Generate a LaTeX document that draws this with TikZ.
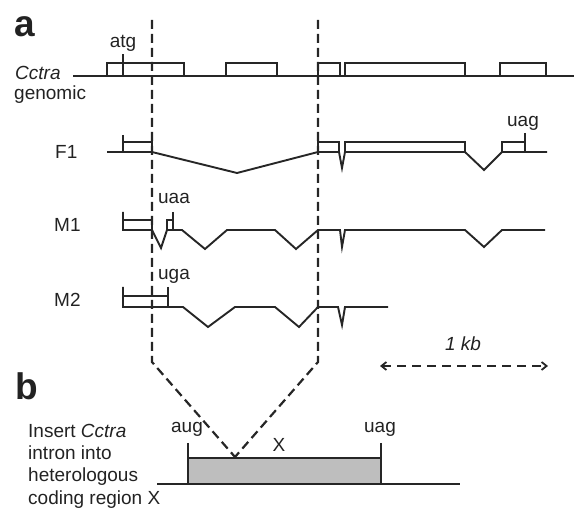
\documentclass[tikz,border=0pt]{standalone}
\usepackage{fontspec}
\setmainfont{Liberation Sans}
\usetikzlibrary{arrows.meta}
\definecolor{txt}{HTML}{222222}
\definecolor{boxgray}{HTML}{BEBEBE}
\begin{document}
\begin{tikzpicture}[x=1pt,y=-1pt,
  gene/.style={line width=1.9pt,line join=miter,black!85},
  guide/.style={line width=2.2pt,dash pattern=on 9pt off 5pt,black!85},
  lbl/.style={inner sep=0pt,anchor=base,text=txt,font=\fontsize{19}{23}\selectfont},
  lbll/.style={lbl,anchor=base west},
  panel/.style={inner sep=0pt,anchor=base west,text=txt,font=\fontsize{37}{40}\selectfont\bfseries}]
\useasboundingbox (0,0) rectangle (574,510);

% panel labels
\node[panel] (pa) at (14,37) {a};
\node[panel] (pb) at (15,400) {b};

% row labels
\node[lbll] (cctra) at (15,80) {\itshape Cctra};
\node[lbll] (genomic) at (14,100) {genomic};
\node[lbll] (f1) at (55,159) {F1};
\node[lbll] (m1) at (54,232) {M1};
\node[lbll] (m2) at (54,307) {M2};

% codon labels
\node[lbl] (atg) at (123,48) {atg};
\node[lbl] (uag1) at (523,127) {uag};
\node[lbl] (uaa) at (174,204) {uaa};
\node[lbl] (uga) at (174,280) {uga};

% genomic
\draw[gene] (73,76) -- (574,76);
\draw[gene] (107,76) |- (184,63) -- (184,76);
\draw[gene] (123,76) -- (123,54);
\draw[gene] (226,76) |- (277,63) -- (277,76);
\draw[gene] (318,76) |- (340,63) -- (340,76);
\draw[gene] (345,76) |- (465,63) -- (465,76);
\draw[gene] (500,76) |- (546,63) -- (546,76);

% F1
\draw[gene] (107,152) -- (152,152) -- (237,173) -- (318,152) -- (339,152)
  -- (342,168) -- (345,152) -- (465,152) -- (484,170) -- (502,152) -- (547,152);
\draw[gene] (123,135) -- (123,152);
\draw[gene] (123,142) -- (152,142) -- (152,152);
\draw[gene] (318,152) |- (339,142) -- (339,152);
\draw[gene] (345,152) |- (465,142) -- (465,152);
\draw[gene] (502,152) |- (525,142);
\draw[gene] (525,133) -- (525,152);

% M1
\draw[gene] (123,212) -- (123,230) -- (152,230) -- (161,248) -- (167,230) -- (182,230)
  -- (205,249) -- (227,230) -- (275,230) -- (296,249) -- (318,230) -- (340,230)
  -- (342,247) -- (345,230) -- (465,230) -- (484,247) -- (502,230) -- (545,230);
\draw[gene] (123,220) -- (152,220) -- (152,230);
\draw[gene] (167,230) |- (173,220);
\draw[gene] (173,212) -- (173,230);

% M2
\draw[gene] (123,287) -- (123,307) -- (168,307) -- (183,307) -- (208,327) -- (235,307)
  -- (275,307) -- (299,327) -- (318,307) -- (338,307) -- (342,325) -- (345,307) -- (388,307);
\draw[gene] (123,296) -- (168,296);
\draw[gene] (168,287) -- (168,307);

% guide lines
\coordinate (gl) at (152,20);
\coordinate (gr) at (318,20);
\coordinate (gm) at (235,457);
\draw[guide] (gl) -- (152,362) -- (gm);
\draw[guide] (gr) -- (318,362) -- (gm);

% scale bar
\node[lbl] (kb) at (463,351) {\itshape 1 kb};
\coordinate (sl) at (380,366);
\coordinate (sr) at (548,366);
\draw[line width=1.8pt,dash pattern=on 9pt off 6pt,black!85,
  {Straight Barb[length=5pt,width=8pt]}-{Straight Barb[length=5pt,width=8pt]}] (sl) -- (sr);

% panel b text
\node[lbll] (t1) at (28,438) {Insert \itshape Cctra};
\node[lbll] (t2) at (28,460) {intron into};
\node[lbll] (t3) at (28,482) {heterologous};
\node[lbll] (t4) at (28,505) {coding region X};

% panel b construct
\draw[gene,fill=boxgray] (188,484) rectangle (381,458);
\draw[gene] (157,484) -- (460,484);
\draw[gene] (188,443) -- (188,458);
\draw[gene] (381,443) -- (381,458);
\node[lbl] (aug) at (187,433) {aug};
\node[lbl] (uag2) at (380,433) {uag};
\node[lbl] (xl) at (279,452) {X};
\end{tikzpicture}
\end{document}
